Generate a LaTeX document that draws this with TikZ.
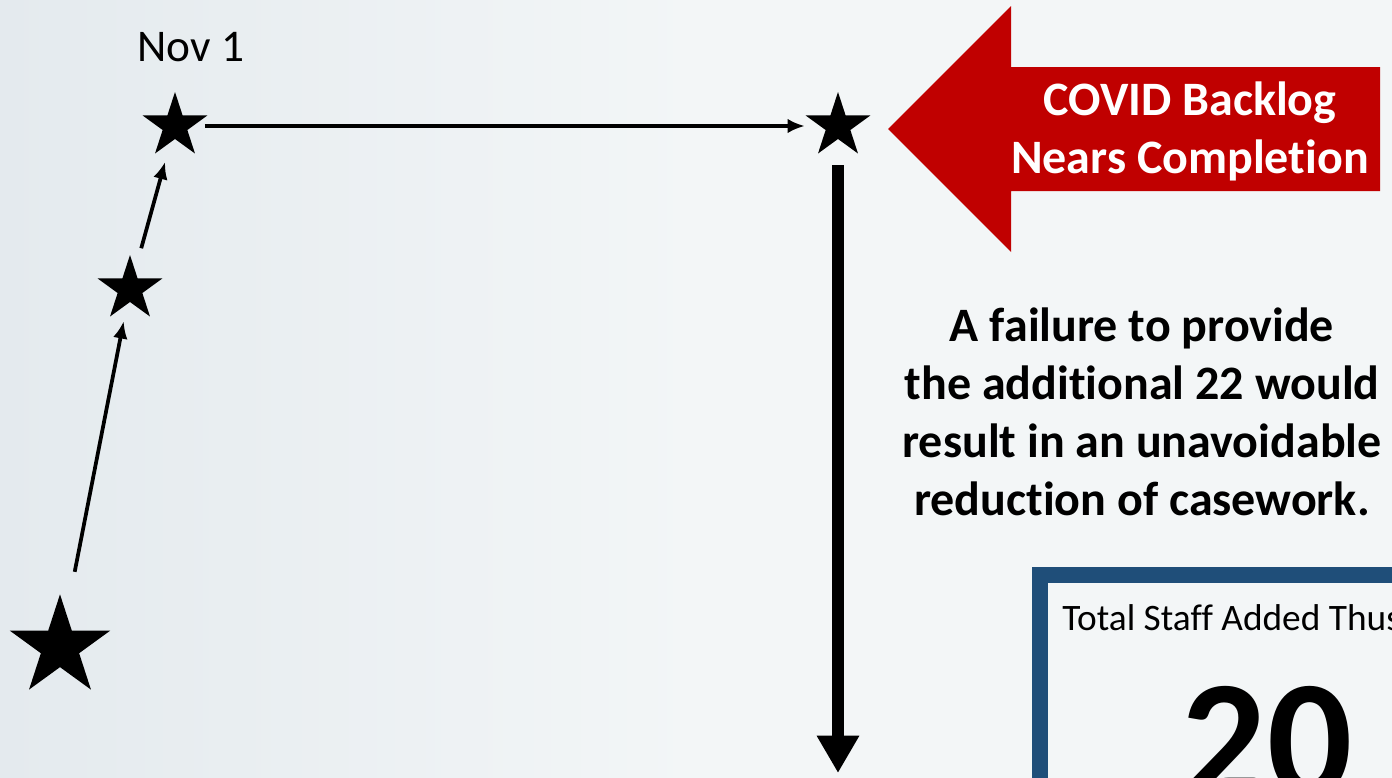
\documentclass[tikz,border=0pt]{standalone}
\usepackage{fontspec}
\setmainfont{Carlito}[Ligatures=NoCommon]
\usetikzlibrary{shapes.geometric,arrows.meta,calc,positioning}

\definecolor{slidebg}{RGB}{243,246,247}
\definecolor{slideshade}{RGB}{228,234,238}
\definecolor{bannerred}{RGB}{192,0,0}
\definecolor{boxblue}{RGB}{31,78,121}

\tikzset{
  milestone/.style={star, star points=5, star point ratio=2.618, fill=black, inner sep=0pt, minimum size=51pt},
  bigmilestone/.style={milestone, minimum size=79pt},
  link/.style={-{Latex[length=13pt,width=11pt]}, line width=2.8pt},
  drop/.style={-{Triangle[length=28pt,width=30pt]}, line width=9pt},
  callout/.style={font=\bfseries\fontsize{36}{43.5}\selectfont, align=center},
}

\begin{document}
\begin{tikzpicture}[x=0.75pt,y=-0.75pt]
  \useasboundingbox (0,0) rectangle (1392,778);
  \clip (0,0) rectangle (1392,778);
  \shade[left color=slideshade, right color=slidebg, middle color=slidebg] (0,0) rectangle (1392,778);

  % staff box
  \fill[slidebg] (1040,575) rectangle (1420,800);
  \draw[boxblue, line width=12pt] (1040,575) rectangle (1420,800);

  % milestones
  \node (start) [bigmilestone] at (60,647) {};
  \node (rise) [milestone] at (130,289) {};
  \node (nov) [milestone] at (175,126) {};
  \node (peak) [milestone] at (838,126) {};
  \node (novlabel) [font=\fontsize{34}{41}\selectfont] at (191,47) {Nov 1};
  \coordinate (bottom) at (838,773);

  \draw[link] ($(start)!0.21!(rise)$) -- ($(rise)!0.09!(start)$);
  \draw[link] ($(rise)!0.25!(nov)$) -- ($(nov)!0.22!(rise)$);
  \draw[link] ($(nov)!0.045!(peak)$) -- ($(peak)!0.05!(nov)$);
  \draw[drop, shorten <=19.5pt] (peak) -- (bottom);

  % banner
  \fill[bannerred] (888,129) -- (1011,6) -- (1011,67) -- (1380,67)
    -- (1380,191) -- (1011,191) -- (1011,252) -- cycle;
  \node (banner) [callout, text=white] at (1190,131) {COVID Backlog\\Nears Completion};

  \node (warning) [callout] at (1142,412) {A failure to provide\\the additional 22 would\\result in an unavoidable\\reduction of casework.};

  \node (stafflabel) [anchor=base west, inner sep=0pt, font=\fontsize{28}{34}\selectfont] at (1062,630) {Total Staff Added Thus};
  \node (staffcount) [anchor=base, inner sep=0pt, font=\bfseries\fontsize{126}{126}\selectfont] at (1267,796) {20};
\end{tikzpicture}
\end{document}
